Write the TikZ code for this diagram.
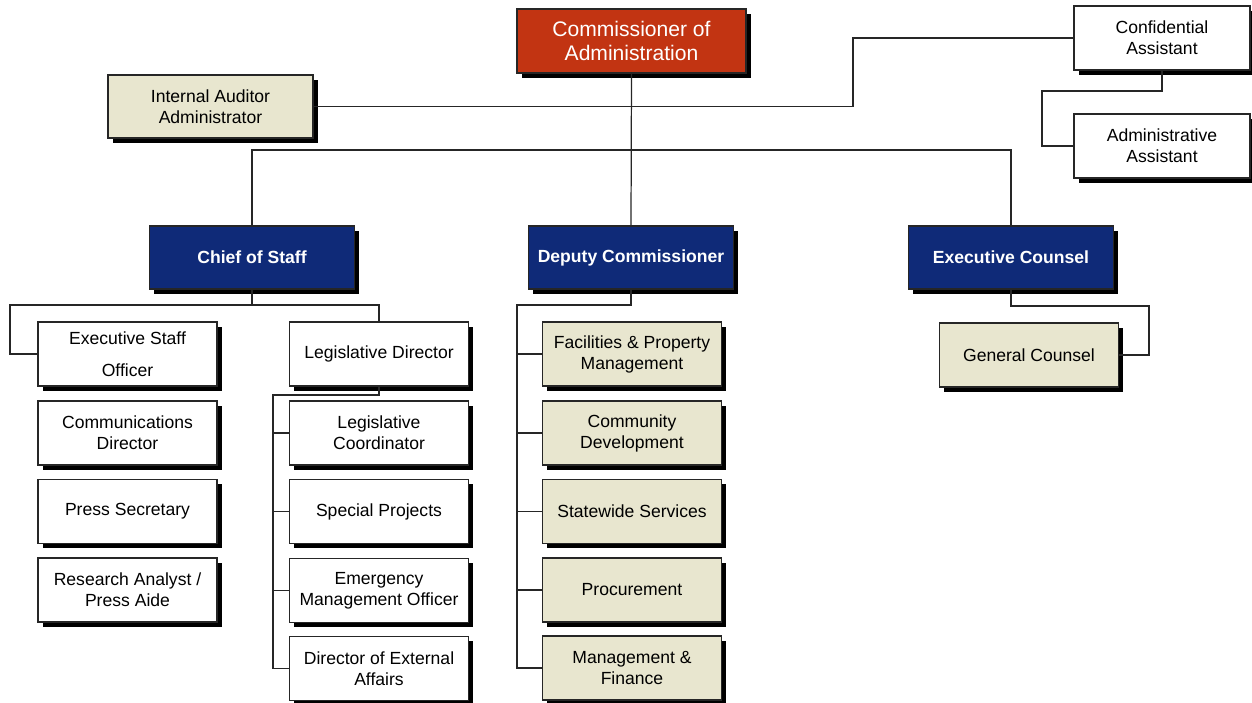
\documentclass[tikz,border=0pt]{standalone}
\usepackage{fontspec}
\setmainfont{Liberation Sans}
\usetikzlibrary{shadows}
\definecolor{adminred}{RGB}{194,52,18}
\definecolor{navyblue}{RGB}{15,42,120}
\definecolor{tanfill}{RGB}{232,230,207}
\tikzset{
	unit/.style={draw=black!85,line width=0.6pt,inner sep=0pt,outer sep=0pt,align=center,
		minimum width=3.58cm,minimum height=1.28cm,font=\fontsize{10}{12}\selectfont,
		drop shadow={shadow xshift=2.6pt,shadow yshift=-2.6pt,fill=black,opacity=1}},
	whiteunit/.style={unit,fill=white},
	tanunit/.style={unit,fill=tanfill},
	navyunit/.style={unit,fill=navyblue,text=white,minimum width=4.1cm,minimum height=1.26cm,
		font=\fontsize{10}{12}\selectfont\bfseries},
	headunit/.style={unit,fill=adminred,text=white,minimum width=4.58cm,
		font=\fontsize{12}{14}\selectfont},
	link/.style={draw=black!85,line width=0.7pt}
}
\begin{document}
\begin{tikzpicture}[x=0.02cm,y=-0.02cm,line join=miter]
	\useasboundingbox (0,0) rectangle (1252,703);
	\path
	(853,0) coordinate (kneeA)
	(1042,91) coordinate (kneeB)
	(0,150) coordinate (busTop)
	(10,305) coordinate (leftRail)
	(273,395) coordinate (legRail)
	(517,305) coordinate (depRail)
	(1149,306) coordinate (counselRail)
	;
	% top
	\node[headunit] (head) at (631.5,41) {Commissioner of\\Administration};
	\node[tanunit,minimum width=4.1cm,minimum height=1.26cm] (audit) at (210.5,106.5) {Internal Auditor\\Administrator};
	\node[whiteunit,minimum width=3.52cm] (conf) at (1162,38) {Confidential\\Assistant};
	\node[whiteunit,minimum width=3.52cm] (adminasst) at (1162,146) {Administrative\\Assistant};
	\node[navyunit] (chief) at (252,257.5) {Chief of Staff};
	\node[navyunit] (deputy) at (631,257.5) {Deputy Commissioner};
	\node[navyunit] (counsel) at (1011,257.5) {Executive Counsel};
	% chief of staff
	\node[whiteunit] (eso) at (127.5,354) {Executive Staff\\[6pt]Officer};
	\node[whiteunit] (commdir) at (127.5,433) {Communications\\Director};
	\node[whiteunit] (presssec) at (127.5,511.5) {Press Secretary};
	\node[whiteunit] (research) at (127.5,590) {Research Analyst /\\Press Aide};
	\node[whiteunit] (legdir) at (379,354) {Legislative Director};
	\node[whiteunit] (legcoord) at (379,433) {Legislative\\Coordinator};
	\node[whiteunit] (special) at (379,511.5) {Special Projects};
	\node[whiteunit] (emerg) at (379,590.5) {Emergency\\Management Officer};
	\node[whiteunit] (extaff) at (379,668.5) {Director of External\\Affairs};
	% deputy
	\node[tanunit] (facil) at (632,354) {Facilities \& Property\\Management};
	\node[tanunit] (commdev) at (632,433) {Community\\Development};
	\node[tanunit] (statewide) at (632,511.5) {Statewide Services};
	\node[tanunit] (procure) at (632,590) {Procurement};
	\node[tanunit] (mgmt) at (632,668) {Management \&\\Finance};
	% counsel
	\node[tanunit] (gencounsel) at (1029,355) {General Counsel};

	\draw[link] (head.south)--(deputy.north);
	\draw[link] (audit.east)--(audit.east -| kneeA) |- (conf.west);
	\draw[link] (conf.south) |- (kneeB) |- (adminasst.west);
	\draw[link] (chief.north) |- (counsel.north |- busTop)--(counsel.north);
	\draw[link] (chief.south)--(chief.south |- leftRail);
	\draw[link] (legdir.north) |- (leftRail) |- (eso.west);
	\draw[link] (legdir.south) |- (legRail) |- (extaff.west);
	\foreach \n in {legcoord,special,emerg}
		\draw[link] (legRail |- \n.west)--(\n.west);
	\draw[link] (deputy.south) |- (depRail) |- (mgmt.west);
	\foreach \n in {facil,commdev,statewide,procure}
		\draw[link] (depRail |- \n.west)--(\n.west);
	\draw[link] (counsel.south) |- (counselRail) |- (gencounsel.east);
\end{tikzpicture}
\end{document}
